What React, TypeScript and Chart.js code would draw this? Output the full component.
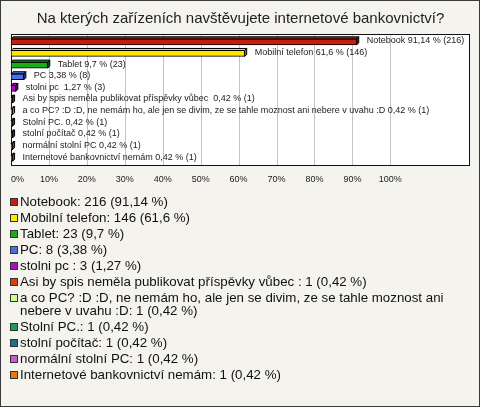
import React, { useEffect, useRef } from "react";
import { Chart, registerables } from "chart.js";

Chart.register(...registerables);

const TITLE = "Na kterých zařízeních navštěvujete internetové bankovnictví?";

const categories = [
  "Notebook",
  "Mobilní telefon",
  "Tablet",
  "PC",
  "stolni pc ",
  "Asi by spis neměla publikovat příspěvky vůbec ",
  "a co PC? :D :D, ne nemám ho, ale jen se divim, ze se tahle moznost ani nebere v uvahu :D",
  "Stolní PC.",
  "stolní počítač",
  "normální stolní PC",
  "Internetové bankovnictví nemám",
];

const counts = [216, 146, 23, 8, 3, 1, 1, 1, 1, 1, 1];

const percents = [91.14, 61.6, 9.7, 3.38, 1.27, 0.42, 0.42, 0.42, 0.42, 0.42, 0.42];

const percentLabels = ["91,14", "61,6", "9,7", "3,38", "1,27", "0,42", "0,42", "0,42", "0,42", "0,42", "0,42"];

const colors = [
  "#C41E0C",
  "#FFE600",
  "#1AAE1A",
  "#4A70E6",
  "#B00AC8",
  "#E03C0C",
  "#C8FF90",
  "#1E9A5A",
  "#1E6E8C",
  "#C060C8",
  "#F07800",
];

const xTickValues = [0, 10, 20, 30, 40, 50, 60, 70, 80, 90, 100];

const barLabels = categories.map((c, i) => `${c} ${percentLabels[i]} % (${counts[i]})`);
const legendLabels = categories.map((c, i) => `${c}: ${counts[i]} (${percentLabels[i]} %)`);

function darken(hex: string, f: number) {
  const n = parseInt(hex.slice(1), 16);
  const r = Math.round(((n >> 16) & 255) * f);
  const g = Math.round(((n >> 8) & 255) * f);
  const b = Math.round((n & 255) * f);
  return `rgb(${r},${g},${b})`;
}

const FONT = '"Liberation Sans", Arial, sans-serif';

const customPlugin = {
  id: "customDecor",
  beforeDraw(chart: any) {
    const { ctx, chartArea: ca, width, height } = chart;
    ctx.save();
    ctx.fillStyle = "#F4F3EE";
    ctx.fillRect(0, 0, width, height);
    ctx.strokeStyle = "#3a3a3a";
    ctx.lineWidth = 1;
    ctx.strokeRect(0.5, 0.5, width - 1, height - 1);

    const top = Math.round(ca.top - 2);
    const bottom = Math.round(ca.bottom + 2);
    const left = Math.round(ca.left);
    const right = Math.round(ca.right);
    ctx.fillStyle = "#ffffff";
    ctx.fillRect(left, top, right - left, bottom - top);

    const xs = chart.scales.x;
    ctx.strokeStyle = "#c4c4c4";
    for (const v of xTickValues) {
      if (v === 0) continue;
      const px = Math.round(xs.getPixelForValue(v)) + 0.5;
      ctx.beginPath();
      ctx.moveTo(px, top);
      ctx.lineTo(px, bottom);
      ctx.stroke();
    }
    ctx.strokeStyle = "#111";
    ctx.strokeRect(left + 0.5, top + 0.5, right - left - 1, bottom - top - 1);

    // tick labels
    ctx.font = `9px ${FONT}`;
    ctx.fillStyle = "#222";
    ctx.textBaseline = "middle";
    for (const v of xTickValues) {
      const px = xs.getPixelForValue(v);
      ctx.textAlign = v === 0 ? "left" : "center";
      ctx.fillText(`${v}%`, px, 180);
    }

    // legend
    ctx.font = `13.3px ${FONT}`;
    ctx.textAlign = "left";
    ctx.fillStyle = "#111";
    let cy = 202;
    const maxW = 448;
    legendLabels.forEach((text, i) => {
      const words = text.split(" ");
      const lines: string[] = [];
      let cur = "";
      for (const w of words) {
        const test = cur ? cur + " " + w : w;
        if (cur && ctx.measureText(test).width > maxW) {
          lines.push(cur);
          cur = w;
        } else {
          cur = test;
        }
      }
      if (cur) lines.push(cur);
      ctx.fillStyle = colors[i];
      ctx.fillRect(10, cy - 4, 8, 8);
      ctx.strokeStyle = "#333";
      ctx.strokeRect(10.5, cy - 3.5, 7, 7);
      ctx.fillStyle = "#111";
      lines.forEach((ln, j) => {
        ctx.fillText(ln, 20, cy + j * 13);
      });
      cy += 16 + 13 * (lines.length - 1);
    });
    ctx.restore();
  },
  afterDatasetsDraw(chart: any) {
    const { ctx } = chart;
    const meta = chart.getDatasetMeta(0);
    const d = 2;
    ctx.save();
    ctx.lineWidth = 1;
    meta.data.forEach((bar: any, i: number) => {
      const { x, y, base, height } = bar.getProps(["x", "y", "base", "height"], true);
      const t = y - height / 2;
      const b = y + height / 2;
      // top face
      ctx.beginPath();
      ctx.moveTo(base, t);
      ctx.lineTo(base + d, t - d);
      ctx.lineTo(x + d, t - d);
      ctx.lineTo(x, t);
      ctx.closePath();
      ctx.fillStyle = colors[i];
      ctx.fill();
      ctx.strokeStyle = "#000";
      ctx.stroke();
      // right face
      ctx.beginPath();
      ctx.moveTo(x, t);
      ctx.lineTo(x + d, t - d);
      ctx.lineTo(x + d, b - d);
      ctx.lineTo(x, b);
      ctx.closePath();
      ctx.fillStyle = darken(colors[i], 0.6);
      ctx.fill();
      ctx.stroke();
      // label
      ctx.font = `9px ${FONT}`;
      ctx.fillStyle = "#222";
      ctx.textAlign = "left";
      ctx.textBaseline = "middle";
      ctx.fillText(barLabels[i], x + 10, y - 1);
    });
    ctx.restore();
  },
};

export default function App() {
  const canvasRef = useRef<HTMLCanvasElement | null>(null);

  useEffect(() => {
    document.body.style.margin = "0";
    const canvas = canvasRef.current;
    if (!canvas) return;
    const chart = new Chart(canvas, {
      type: "bar",
      data: {
        labels: categories,
        datasets: [
          {
            data: percents,
            backgroundColor: colors,
            borderColor: "#000",
            borderWidth: 1,
            borderSkipped: false,
            barThickness: 6,
          },
        ],
      },
      options: {
        indexAxis: "y",
        responsive: false,
        devicePixelRatio: 1,
        animation: false,
        layout: { padding: { left: 11, right: 10, top: 0, bottom: 243 } },
        plugins: {
          legend: { display: false },
          tooltip: { enabled: false },
          title: {
            display: true,
            text: TITLE,
            color: "#222",
            font: { family: FONT, size: 15, weight: "normal" },
            padding: { top: 10, bottom: 8 },
          },
        },
        scales: {
          x: { type: "linear", min: 0, max: 121, display: false },
          y: { type: "category", display: false, offset: true },
        },
      },
      plugins: [customPlugin],
    });
    return () => chart.destroy();
  }, []);

  return (
    <div style={{ position: "absolute", left: 0, top: 0, width: 480, height: 407 }}>
      <canvas ref={canvasRef} width={480} height={407} style={{ display: "block" }} />
    </div>
  );
}
